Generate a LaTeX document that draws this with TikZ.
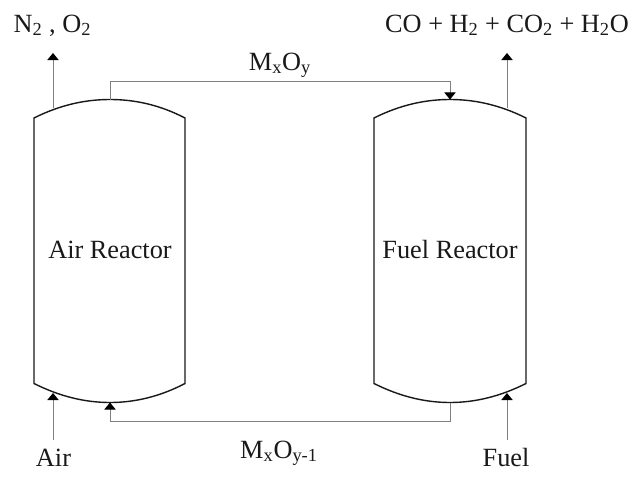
\documentclass[tikz,border=0pt]{standalone}
\usepackage{fontspec}
\setmainfont{Liberation Serif}
\usetikzlibrary{arrows.meta}
\tikzset{
  vessel/.style={line width=1pt, black!90},
  flow/.style={line width=0.7pt, black!50, -{Triangle[width=8pt,length=5pt,black]}},
  label/.style={anchor=base, inner sep=0pt, font=\fontsize{18.7}{20}\selectfont, black!90}
}
\begin{document}
\begin{tikzpicture}[x=0.025cm,y=-0.025cm]
\useasboundingbox (0,0) rectangle (632,480);

\coordinate (airtop) at (110,99.5); %air reactor
\coordinate (airbot) at (110,402.5);
\draw[vessel] (34,118) .. controls (60,105) and (85,99.5) .. (airtop) .. controls (135,99.5) and (160,105) .. (185,118) -- (185,383.5) .. controls (160,396.5) and (135,402.5) .. (airbot) .. controls (85,402.5) and (60,396.5) .. (34,383.5) -- cycle;

\coordinate (fueltop) at (450,99.5); %fuel reactor
\coordinate (fuelbot) at (450,402.5);
\draw[vessel] (374,118) .. controls (400,105) and (425,99.5) .. (fueltop) .. controls (475,99.5) and (500,105) .. (526,118) -- (526,383.5) .. controls (500,396.5) and (475,402.5) .. (fuelbot) .. controls (425,402.5) and (400,396.5) .. (374,383.5) -- cycle;

\node[label] (airname) at (110,258) {Air Reactor};
\node[label] (fuelname) at (450,258) {Fuel Reactor};

\node[label] (oxide) at (280,70) {M\textsubscript{x}O\textsubscript{y}}; %top loop
\draw[flow] (airtop) -- (110,81) -- (450,81) -- (fueltop);

\node[label] (reduced) at (279,458) {M\textsubscript{x}O\textsubscript{y-1}}; %bottom loop
\draw[flow] (fuelbot) -- (450,421) -- (110,421) -- (airbot);

\coordinate (airout) at (53,108); %air side
\coordinate (airouttip) at (53,53);
\coordinate (airintail) at (53,440);
\coordinate (airin) at (53,393);
\node[label] (exhaust) at (52.5,32) {N\textsubscript{2} , O\textsubscript{2}};
\node[label] (air) at (53.5,466.5) {Air};
\draw[flow] (airout) -- (airouttip);
\draw[flow] (airintail) -- (airin);

\coordinate (fuelout) at (507,108); %fuel side
\coordinate (fuelouttip) at (507,53);
\coordinate (fuelintail) at (507,440);
\coordinate (fuelin) at (507,393);
\node[label] (products) at (507,32) {CO + H\textsubscript{2} + CO\textsubscript{2} + H\textsubscript{2}O};
\node[label] (fuel) at (506,466.5) {Fuel};
\draw[flow] (fuelout) -- (fuelouttip);
\draw[flow] (fuelintail) -- (fuelin);
\end{tikzpicture}
\end{document}
